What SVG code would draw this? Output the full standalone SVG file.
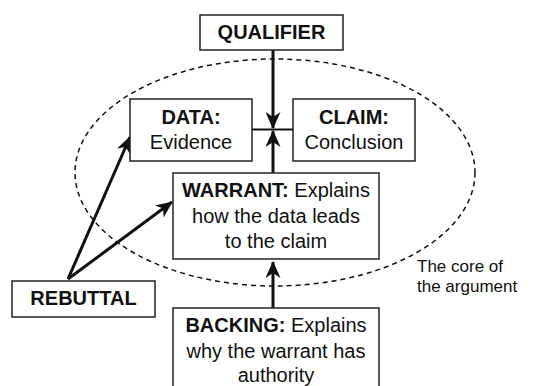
<svg xmlns="http://www.w3.org/2000/svg" width="544" height="386" viewBox="0 0 544 386">
<style>
.box{fill:#fff;stroke:#222;stroke-width:1.5}
.t{font-family:"Liberation Sans",Arial,sans-serif;font-size:20px;fill:#111;text-anchor:middle}
.b{font-weight:bold}
.c{stroke:#111;stroke-width:3;fill:none}
.note{font-family:"Liberation Sans",Arial,sans-serif;font-size:17px;fill:#111}
</style>
<defs>
<marker id="ah" markerUnits="userSpaceOnUse" viewBox="0 0 17 15" refX="16" refY="7.5" markerWidth="17" markerHeight="15" orient="auto">
<path d="M0,0 L17,7.5 L0,15 L5,7.5 z" fill="#111"/>
</marker>
</defs>
<ellipse id="core" cx="275" cy="172.5" rx="200" ry="113.5" fill="none" stroke="#111" stroke-width="1.5" stroke-dasharray="5,4"/>
<g id="connectors">
<line class="c" x1="273" y1="50" x2="273" y2="128" marker-end="url(#ah)"/>
<line class="c" x1="273" y1="172.7" x2="273" y2="131" marker-end="url(#ah)"/>
<line class="c" x1="273" y1="308" x2="273" y2="262" marker-end="url(#ah)"/>
<line x1="252" y1="129.5" x2="293" y2="129.5" stroke="#111" stroke-width="2.2"/>
<line class="c" x1="68" y1="279" x2="130" y2="137" marker-end="url(#ah)"/>
<line class="c" x1="68" y1="279" x2="172" y2="202" marker-end="url(#ah)"/>
</g>
<g id="qualifier">
<rect class="box" x="200" y="15" width="143" height="35"/>
<text class="t b" x="271.5" y="39">QUALIFIER</text>
</g>
<g id="data">
<rect class="box" x="130" y="99" width="122" height="62"/>
<text class="t b" x="191" y="124">DATA:</text>
<text class="t" x="191" y="149">Evidence</text>
</g>
<g id="claim">
<rect class="box" x="293" y="99" width="122" height="62"/>
<text class="t b" x="354" y="124">CLAIM:</text>
<text class="t" x="354" y="149">Conclusion</text>
</g>
<g id="warrant">
<rect class="box" x="173" y="173" width="206" height="86"/>
<text class="t" x="276" y="197"><tspan class="b">WARRANT:</tspan> Explains</text>
<text class="t" x="276" y="223">how the data leads</text>
<text class="t" x="276" y="248">to the claim</text>
</g>
<g id="rebuttal">
<rect class="box" x="12" y="281" width="143" height="36"/>
<text class="t b" x="83.5" y="305">REBUTTAL</text>
</g>
<g id="backing">
<rect class="box" x="173" y="308" width="206" height="90"/>
<text class="t" x="276" y="332"><tspan class="b">BACKING:</tspan> Explains</text>
<text class="t" x="276" y="358">why the warrant has</text>
<text class="t" x="276" y="382">authority</text>
</g>
<g id="core-label">
<text class="note" x="417" y="272">The core of</text>
<text class="note" x="417" y="292">the argument</text>
</g>
</svg>
